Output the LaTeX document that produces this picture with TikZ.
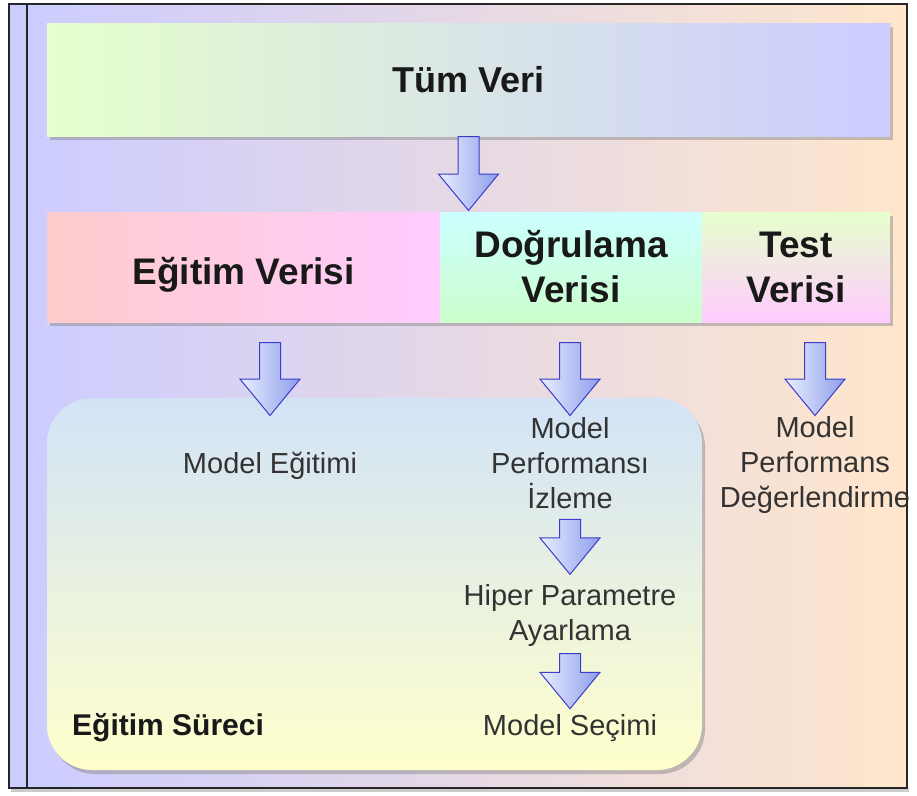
\documentclass[tikz,border=0pt]{standalone}
\usepackage{fontspec}
\setmainfont{Liberation Sans}
\usetikzlibrary{positioning,shapes.arrows,shadows,calc}

\definecolor{bgleft}{HTML}{CCCCFF}
\definecolor{bgright}{HTML}{FFE6CC}
\definecolor{tumleft}{HTML}{E6FFCC}
\definecolor{tumright}{HTML}{CCCCFF}
\definecolor{egitleft}{HTML}{FFCCCC}
\definecolor{egitright}{HTML}{FFCCFF}
\definecolor{dogtop}{HTML}{CCFFFF}
\definecolor{dogbot}{HTML}{CCFFCC}
\definecolor{testtop}{HTML}{E6FFCC}
\definecolor{testbot}{HTML}{FFCCFF}
\definecolor{surectop}{HTML}{D2E3F6}
\definecolor{surecbot}{HTML}{FFFFCC}
\definecolor{arrowline}{HTML}{3C3CCC}
\definecolor{arrowlight}{HTML}{EAEEFF}
\definecolor{arrowdark}{HTML}{8C9EEA}
\definecolor{textgray}{HTML}{333333}

\begin{document}
\begin{tikzpicture}[
    x=1pt, y=-1pt,
    node distance=0pt,
    databox/.style={inner sep=0pt, outer sep=0pt, minimum height=110pt, align=center, text=black!90, font=\bfseries\fontsize{37}{45}\selectfont, drop shadow={shadow xshift=3pt, shadow yshift=-4pt, fill=black!45, opacity=.5}},
    steptext/.style={inner sep=0pt, align=center, text=textgray, font=\fontsize{29}{35}\selectfont},
    fatarrow/.style={single arrow, rotate=-90, anchor=tail, inner xsep=0pt, inner ysep=10pt, minimum width=59pt, single arrow head extend=19.5pt, single arrow tip angle=79, draw=arrowline, line width=1pt, left color=arrowlight, right color=arrowdark}
  ]
    \useasboundingbox (0,0) rectangle (917,795);
    \fill[black!20] (11,788) rectangle (909,792);
    \fill[bgleft] (9,4) rectangle (27,788);
    \shade[left color=bgleft, right color=bgright] (27,4) rectangle (907,788);
    \draw[line width=1.2pt, black!85] (9,4) rectangle (907,788);
    \draw[line width=1.2pt, black!85] (27,4) -- (27,788);

    \node[databox, minimum width=843pt, minimum height=113pt, left color=tumleft, right color=tumright, font=\bfseries\fontsize{36}{44}\selectfont] (tum) at (468.5,79.5) {Tüm Veri};
    \node[databox, minimum width=393pt, text height=34pt, text depth=0pt, left color=egitleft, right color=egitright] (egitimveri) at (243.5,267) {Eğitim Verisi};
    \node[databox, minimum width=262pt, right=of egitimveri, top color=dogtop, bottom color=dogbot] (dogrulama) {Doğrulama\\Verisi};
    \node[databox, minimum width=188pt, right=of dogrulama, top color=testtop, bottom color=testbot] (test) {Test\\Verisi};

    \node[inner sep=0pt, outer sep=0pt, minimum width=655pt, minimum height=372pt, rounded corners=45pt, top color=surectop, bottom color=surecbot, drop shadow={shadow xshift=3pt, shadow yshift=-4pt, fill=black!45, opacity=.5}] (surec) at (374.5,584) {};

    \node[steptext, anchor=base] (modegitim) at (270,473) {Model Eğitimi};
    \node[steptext] (perf) at (570,463) {Model\\Performansı\\İzleme};
    \node[steptext] (deger) at (815,465) {Model\\Performans\\Değerlendirme};
    \node[steptext] (hiper) at (570,615) {Hiper Parametre\\Ayarlama};
    \node[steptext, anchor=base] (secim) at (570,735) {Model Seçimi};
    \node[anchor=base west, inner sep=0pt, text=black!90, font=\bfseries\fontsize{30}{36}\selectfont] (sureclabel) at (72,735) {Eğitim Süreci};

    \path (tum.south) node[fatarrow, minimum height=74pt] {} -- (tum.south |- egitimveri.north);
    \path ($(egitimveri.south -| modegitim)+(0,20)$) node[fatarrow, minimum height=73pt] {} -- (modegitim.north);
    \path ($(dogrulama.south -| perf)+(0,20)$) node[fatarrow, minimum height=73pt] {} -- (perf.north);
    \path ($(test.south -| deger)+(0,20)$) node[fatarrow, minimum height=73pt] {} -- (deger.north);
    \path ($(perf.south)+(0,10)$) node[fatarrow, minimum height=55pt] {} -- (hiper.north);
    \path ($(hiper.south)+(0,7)$) node[fatarrow, minimum height=55pt] {} -- (secim.north);
  \end{tikzpicture}
\end{document}
